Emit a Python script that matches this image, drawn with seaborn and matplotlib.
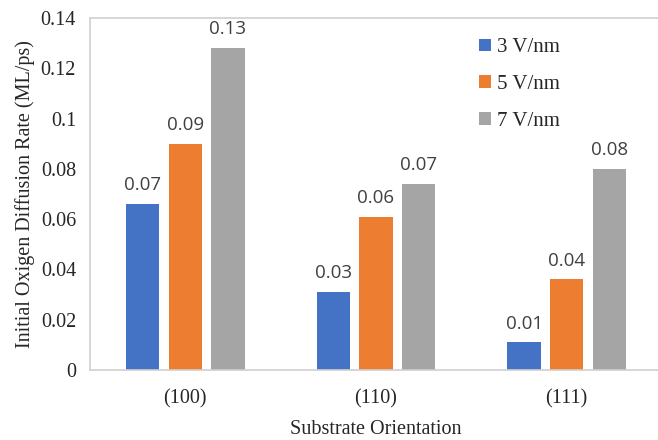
import matplotlib
matplotlib.use("Agg")
import matplotlib.pyplot as plt
import seaborn as sns
import pandas as pd

categories = ["(100)", "(110)", "(111)"]
series_names = ["3 V/nm", "5 V/nm", "7 V/nm"]
vals_3 = [0.066, 0.031, 0.011]
vals_5 = [0.090, 0.061, 0.036]
vals_7 = [0.128, 0.074, 0.080]
colors = ["#4472C4", "#ED7D31", "#A5A5A5"]
yticks = [0, 0.02, 0.04, 0.06, 0.08, 0.1, 0.12, 0.14]
ytick_labels = ["0", "0.02", "0.04", "0.06", "0.08", "0.1", "0.12", "0.14"]

rows = []
for name, vals in zip(series_names, [vals_3, vals_5, vals_7]):
    for c, v in zip(categories, vals):
        rows.append({"Orientation": c, "Field": name, "Rate": v})
df = pd.DataFrame(rows)

sns.set_theme(style="white")
plt.rcParams["font.family"] = ["Liberation Serif", "DejaVu Serif"]

fig = plt.figure(figsize=(6.58, 4.40), dpi=100)
ax = fig.add_axes([90/658, 70/440, 572/658, 352/440])

sns.barplot(data=df, x="Orientation", y="Rate", hue="Field",
            order=categories, hue_order=series_names, palette=colors,
            width=0.67, gap=0.22, errorbar=None, ax=ax, linewidth=0,
            saturation=1)

for cont in ax.containers:
    ax.bar_label(cont, fmt="%.2f", padding=7, fontsize=13.5,
                 color="#404040", family="Open Sans")

ax.set_ylim(0, 0.14)
ax.set_yticks(yticks)
ax.set_yticklabels(ytick_labels, fontsize=14.5)
ax.tick_params(axis="x", labelsize=14.5, length=0, pad=14)
ax.tick_params(axis="y", length=0, pad=10)
ax.set_xlim(-0.5, 2.5)
ax.set_xlabel("Substrate Orientation", fontsize=14.5, labelpad=8)
ax.set_ylabel("Initial Oxigen Diffusion Rate (ML/ps)", fontsize=14.5, labelpad=4)

for s in ax.spines.values():
    s.set_color("#D0D0D0")
    s.set_linewidth(1.2)

leg = ax.legend(loc="upper left", bbox_to_anchor=((471-90)/572, 1 - 12/352),
                frameon=False, fontsize=15, handlelength=0.55, handleheight=0.55,
                handletextpad=0.3, labelspacing=0.85, borderaxespad=0)

fig.savefig("out.png", dpi=100)
